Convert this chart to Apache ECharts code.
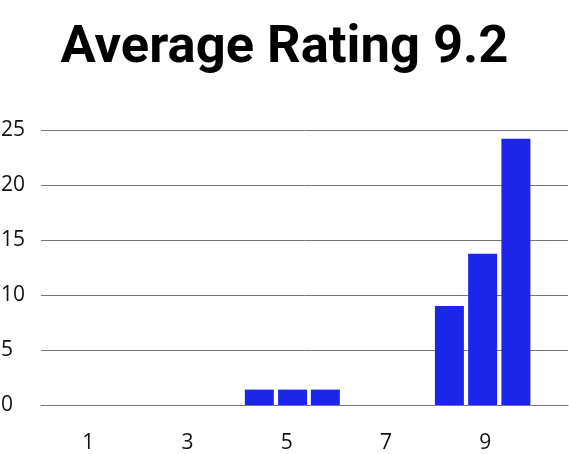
<!DOCTYPE html>
<html>
<head>
<meta charset="utf-8">
<script src="https://cdn.jsdelivr.net/npm/echarts@6/dist/echarts.min.js"></script>
<style>
html, body { margin: 0; padding: 0; background: #fff; }
#chart { width: 569px; height: 454px; }
</style>
</head>
<body>
<div id="chart"></div>
<script>
// histogram bins (centre of each bin on the rating scale) and their heights
const binCenters = [4.45, 5.12, 5.78, 8.28, 8.95, 9.62];
const binHeights = [1.4, 1.4, 1.4, 9.0, 13.75, 24.2];
const xTickLabels = [1, 3, 5, 7, 9];
const titleText = 'Average Rating 9.2';

const chart = echarts.init(document.getElementById('chart'));

const option = {
    animation: false,
    backgroundColor: '#fff',
    title: {
        text: titleText,
        left: 'center',
        top: 17,
        textStyle: {
            fontFamily: 'Roboto',
            fontWeight: 'bold',
            fontSize: 52.5,
            color: '#000'
        }
    },
    grid: {
        left: 41,
        right: 1,
        top: 130,
        bottom: 49,
        containLabel: false,
        outerBoundsMode: 'none'
    },
    xAxis: {
        type: 'value',
        min: 0.05,
        max: 10.67,
        axisLine: { show: true, lineStyle: { color: '#777', width: 1 } },
        axisTick: { show: false },
        splitLine: { show: false },
        axisLabel: {
            customValues: xTickLabels,
            margin: 28,
            fontFamily: 'Open Sans',
            fontSize: 21,
            color: '#111'
        }
    },
    yAxis: {
        type: 'value',
        min: 0,
        max: 25,
        interval: 5,
        axisLine: { show: false },
        axisTick: { show: false },
        splitLine: { show: true, lineStyle: { color: '#777', width: 1 } },
        axisLabel: {
            align: 'left',
            margin: 40,
            fontFamily: 'Open Sans',
            fontSize: 21,
            color: '#111'
        }
    },
    series: [
        {
            type: 'bar',
            barWidth: 29,
            itemStyle: { color: '#1b26e8' },
            data: binCenters.map((x, i) => [x, binHeights[i]])
        }
    ]
};

chart.setOption(option);
</script>
</body>
</html>
